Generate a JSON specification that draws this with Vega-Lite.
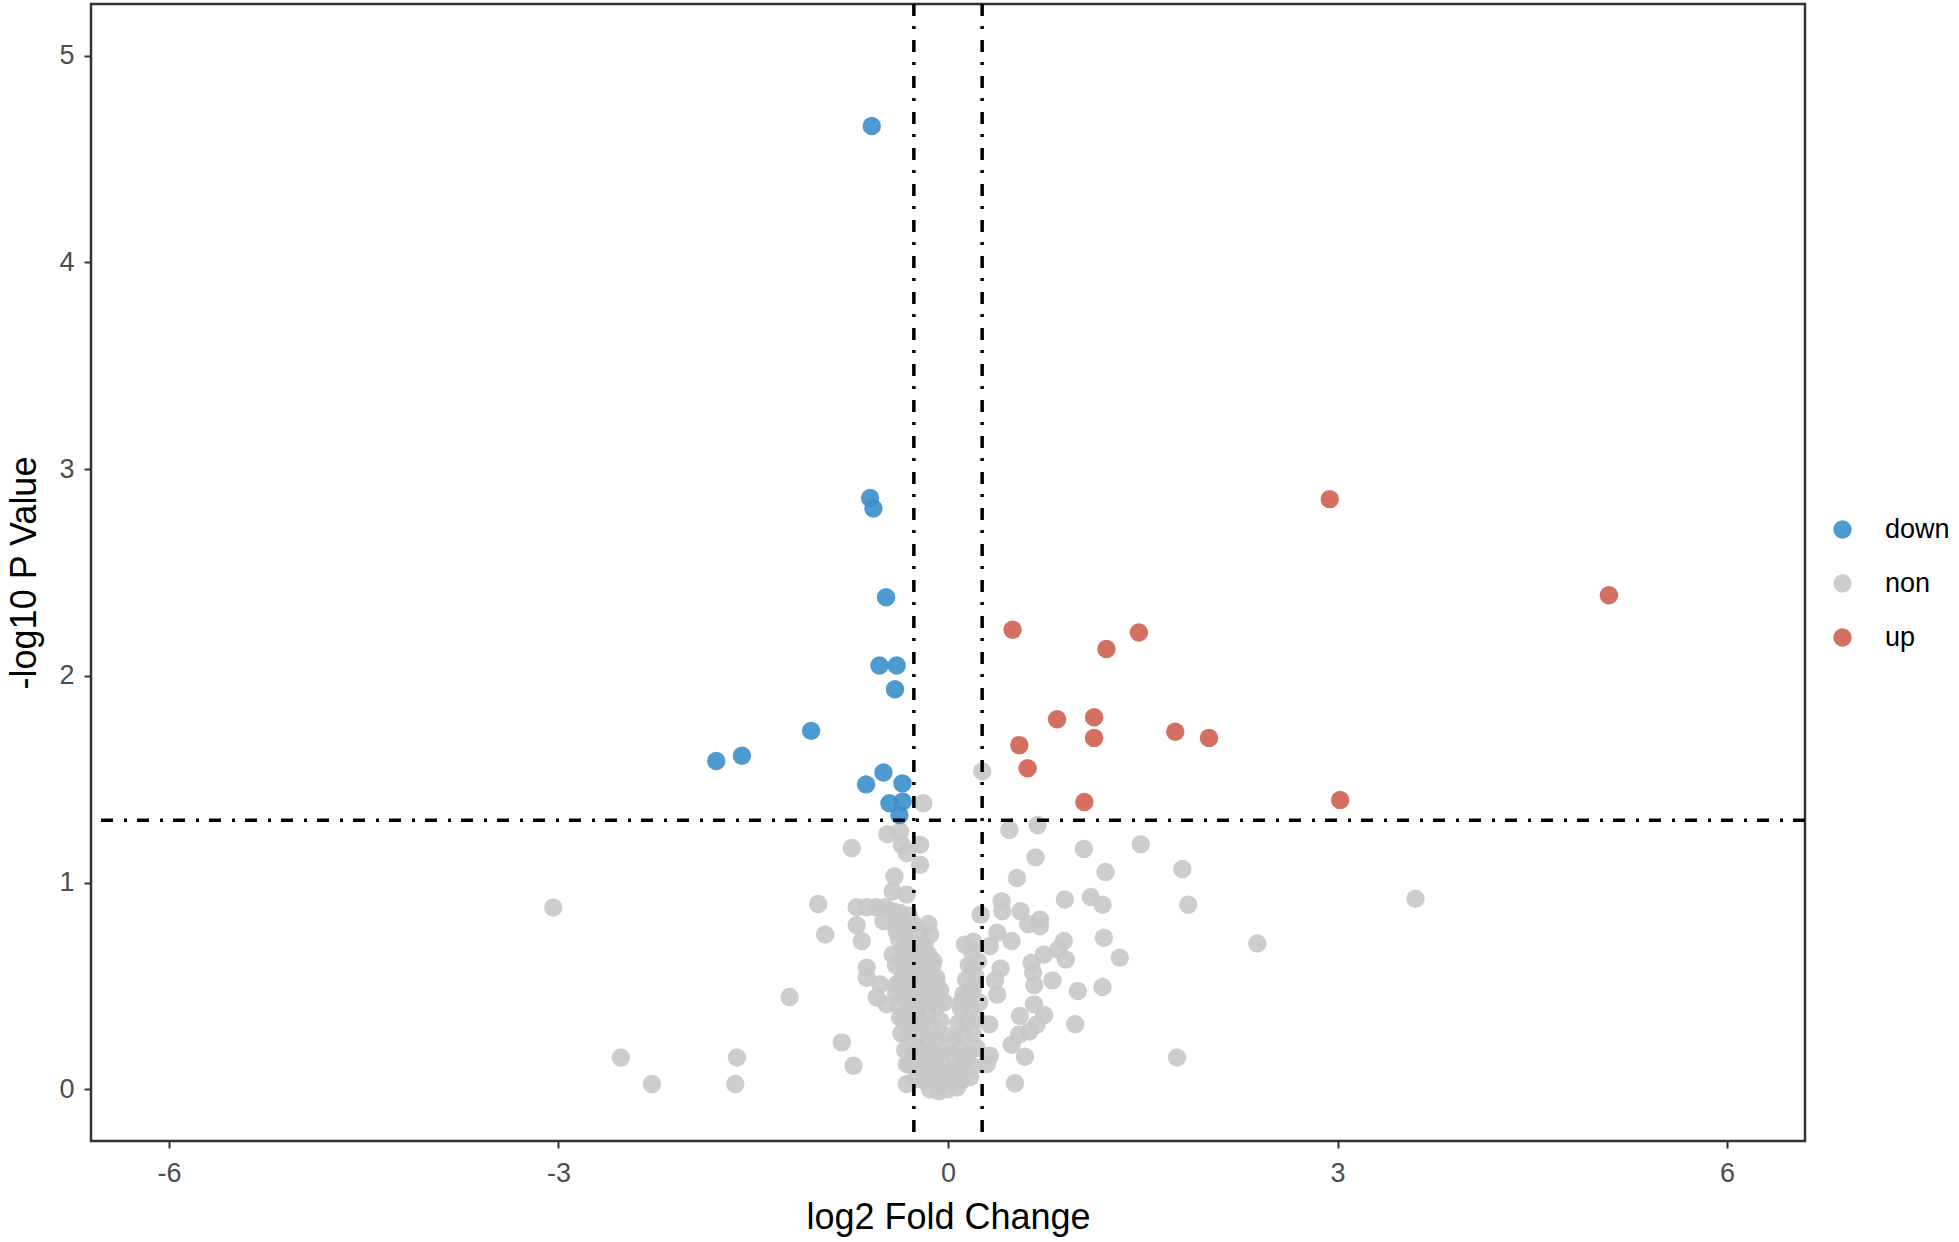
{
  "$schema": "https://vega.github.io/schema/vega-lite/v6.json",
  "width": 1714,
  "height": 1137,
  "autosize": {"type": "none"},
  "padding": {"left": 91, "top": 4, "right": 154, "bottom": 101},
  "background": "white",
  "config": {
    "view": {"stroke": "#333333", "strokeWidth": 2.5},
    "font": "Liberation Sans",
    "axis": {
      "domain": false,
      "grid": false,
      "tickColor": "#333333",
      "tickWidth": 2,
      "tickSize": 7,
      "labelColor": "#4D4D4D",
      "labelFont": "Liberation Sans",
      "labelFontSize": 27,
      "titleFont": "Liberation Sans",
      "titleFontSize": 36,
      "titleFontWeight": "normal",
      "titleColor": "#000000"
    }
  },
  "datasets": {
    "pts": [
      {"log2FC": -3.04, "nlogP": 0.88, "group": "non"},
      {"log2FC": -2.52, "nlogP": 0.154, "group": "non"},
      {"log2FC": -2.28, "nlogP": 0.026, "group": "non"},
      {"log2FC": -1.625, "nlogP": 0.154, "group": "non"},
      {"log2FC": -1.638, "nlogP": 0.026, "group": "non"},
      {"log2FC": -1.22, "nlogP": 0.447, "group": "non"},
      {"log2FC": -1.0, "nlogP": 0.897, "group": "non"},
      {"log2FC": -0.946, "nlogP": 0.749, "group": "non"},
      {"log2FC": -0.818, "nlogP": 0.227, "group": "non"},
      {"log2FC": -0.728, "nlogP": 0.114, "group": "non"},
      {"log2FC": -0.741, "nlogP": 1.167, "group": "non"},
      {"log2FC": -0.703, "nlogP": 0.881, "group": "non"},
      {"log2FC": -0.626, "nlogP": 0.881, "group": "non"},
      {"log2FC": -0.554, "nlogP": 0.881, "group": "non"},
      {"log2FC": -0.485, "nlogP": 0.881, "group": "non"},
      {"log2FC": -0.703, "nlogP": 0.794, "group": "non"},
      {"log2FC": -0.664, "nlogP": 0.717, "group": "non"},
      {"log2FC": -0.497, "nlogP": 0.813, "group": "non"},
      {"log2FC": -0.395, "nlogP": 0.765, "group": "non"},
      {"log2FC": -0.426, "nlogP": 0.652, "group": "non"},
      {"log2FC": -0.626, "nlogP": 0.588, "group": "non"},
      {"log2FC": -0.626, "nlogP": 0.54, "group": "non"},
      {"log2FC": -0.523, "nlogP": 0.508, "group": "non"},
      {"log2FC": -0.549, "nlogP": 0.444, "group": "non"},
      {"log2FC": -0.472, "nlogP": 0.411, "group": "non"},
      {"log2FC": -0.369, "nlogP": 0.62, "group": "non"},
      {"log2FC": -0.318, "nlogP": 0.7, "group": "non"},
      {"log2FC": -0.318, "nlogP": 0.572, "group": "non"},
      {"log2FC": -0.395, "nlogP": 0.508, "group": "non"},
      {"log2FC": -0.344, "nlogP": 0.444, "group": "non"},
      {"log2FC": -0.369, "nlogP": 0.347, "group": "non"},
      {"log2FC": -0.292, "nlogP": 0.283, "group": "non"},
      {"log2FC": -0.318, "nlogP": 0.122, "group": "non"},
      {"log2FC": -0.318, "nlogP": 0.026, "group": "non"},
      {"log2FC": -0.138, "nlogP": 0.0, "group": "non"},
      {"log2FC": -0.369, "nlogP": 0.853, "group": "non"},
      {"log2FC": -0.151, "nlogP": 0.8, "group": "non"},
      {"log2FC": -0.138, "nlogP": 0.749, "group": "non"},
      {"log2FC": -0.113, "nlogP": 0.62, "group": "non"},
      {"log2FC": -0.087, "nlogP": 0.516, "group": "non"},
      {"log2FC": -0.467, "nlogP": 1.234, "group": "non"},
      {"log2FC": -0.369, "nlogP": 1.247, "group": "non"},
      {"log2FC": -0.19, "nlogP": 1.384, "group": "non"},
      {"log2FC": -0.356, "nlogP": 1.183, "group": "non"},
      {"log2FC": -0.215, "nlogP": 1.183, "group": "non"},
      {"log2FC": -0.318, "nlogP": 1.143, "group": "non"},
      {"log2FC": -0.215, "nlogP": 1.086, "group": "non"},
      {"log2FC": -0.413, "nlogP": 1.03, "group": "non"},
      {"log2FC": -0.426, "nlogP": 0.958, "group": "non"},
      {"log2FC": -0.318, "nlogP": 0.942, "group": "non"},
      {"log2FC": 0.264, "nlogP": 1.537, "group": "non"},
      {"log2FC": 0.472, "nlogP": 1.255, "group": "non"},
      {"log2FC": 0.69, "nlogP": 1.279, "group": "non"},
      {"log2FC": 1.046, "nlogP": 1.163, "group": "non"},
      {"log2FC": 1.485, "nlogP": 1.186, "group": "non"},
      {"log2FC": 0.674, "nlogP": 1.122, "group": "non"},
      {"log2FC": 1.213, "nlogP": 1.051, "group": "non"},
      {"log2FC": 1.805, "nlogP": 1.066, "group": "non"},
      {"log2FC": 0.531, "nlogP": 1.022, "group": "non"},
      {"log2FC": 0.9, "nlogP": 0.918, "group": "non"},
      {"log2FC": 1.1, "nlogP": 0.93, "group": "non"},
      {"log2FC": 1.19, "nlogP": 0.893, "group": "non"},
      {"log2FC": 1.85, "nlogP": 0.893, "group": "non"},
      {"log2FC": 0.413, "nlogP": 0.91, "group": "non"},
      {"log2FC": 0.418, "nlogP": 0.862, "group": "non"},
      {"log2FC": 0.251, "nlogP": 0.845, "group": "non"},
      {"log2FC": 0.559, "nlogP": 0.862, "group": "non"},
      {"log2FC": 0.618, "nlogP": 0.8, "group": "non"},
      {"log2FC": 0.708, "nlogP": 0.821, "group": "non"},
      {"log2FC": 0.708, "nlogP": 0.789, "group": "non"},
      {"log2FC": 0.379, "nlogP": 0.757, "group": "non"},
      {"log2FC": 0.49, "nlogP": 0.717, "group": "non"},
      {"log2FC": 0.323, "nlogP": 0.693, "group": "non"},
      {"log2FC": 0.195, "nlogP": 0.714, "group": "non"},
      {"log2FC": 0.892, "nlogP": 0.717, "group": "non"},
      {"log2FC": 1.2, "nlogP": 0.733, "group": "non"},
      {"log2FC": 2.382, "nlogP": 0.705, "group": "non"},
      {"log2FC": 3.6, "nlogP": 0.922, "group": "non"},
      {"log2FC": 0.738, "nlogP": 0.652, "group": "non"},
      {"log2FC": 0.849, "nlogP": 0.676, "group": "non"},
      {"log2FC": 0.908, "nlogP": 0.628, "group": "non"},
      {"log2FC": 1.323, "nlogP": 0.636, "group": "non"},
      {"log2FC": 0.644, "nlogP": 0.612, "group": "non"},
      {"log2FC": 0.195, "nlogP": 0.596, "group": "non"},
      {"log2FC": 0.405, "nlogP": 0.585, "group": "non"},
      {"log2FC": 0.656, "nlogP": 0.564, "group": "non"},
      {"log2FC": 0.805, "nlogP": 0.527, "group": "non"},
      {"log2FC": 0.362, "nlogP": 0.527, "group": "non"},
      {"log2FC": 0.664, "nlogP": 0.505, "group": "non"},
      {"log2FC": 1.0, "nlogP": 0.476, "group": "non"},
      {"log2FC": 1.19, "nlogP": 0.495, "group": "non"},
      {"log2FC": 0.379, "nlogP": 0.457, "group": "non"},
      {"log2FC": 0.169, "nlogP": 0.488, "group": "non"},
      {"log2FC": 0.105, "nlogP": 0.424, "group": "non"},
      {"log2FC": 0.662, "nlogP": 0.411, "group": "non"},
      {"log2FC": 0.554, "nlogP": 0.355, "group": "non"},
      {"log2FC": 0.741, "nlogP": 0.36, "group": "non"},
      {"log2FC": 0.682, "nlogP": 0.312, "group": "non"},
      {"log2FC": 0.318, "nlogP": 0.315, "group": "non"},
      {"log2FC": 0.98, "nlogP": 0.315, "group": "non"},
      {"log2FC": 0.546, "nlogP": 0.264, "group": "non"},
      {"log2FC": 0.626, "nlogP": 0.28, "group": "non"},
      {"log2FC": 0.49, "nlogP": 0.216, "group": "non"},
      {"log2FC": 0.323, "nlogP": 0.162, "group": "non"},
      {"log2FC": 0.592, "nlogP": 0.158, "group": "non"},
      {"log2FC": 0.515, "nlogP": 0.029, "group": "non"},
      {"log2FC": 0.298, "nlogP": 0.122, "group": "non"},
      {"log2FC": 1.764, "nlogP": 0.154, "group": "non"},
      {"log2FC": -0.42, "nlogP": 0.86, "group": "non"},
      {"log2FC": -0.3, "nlogP": 0.84, "group": "non"},
      {"log2FC": -0.4, "nlogP": 0.8, "group": "non"},
      {"log2FC": -0.33, "nlogP": 0.78, "group": "non"},
      {"log2FC": -0.27, "nlogP": 0.8, "group": "non"},
      {"log2FC": -0.22, "nlogP": 0.76, "group": "non"},
      {"log2FC": -0.38, "nlogP": 0.73, "group": "non"},
      {"log2FC": -0.3, "nlogP": 0.71, "group": "non"},
      {"log2FC": -0.24, "nlogP": 0.69, "group": "non"},
      {"log2FC": -0.18, "nlogP": 0.7, "group": "non"},
      {"log2FC": -0.35, "nlogP": 0.66, "group": "non"},
      {"log2FC": -0.28, "nlogP": 0.64, "group": "non"},
      {"log2FC": -0.21, "nlogP": 0.63, "group": "non"},
      {"log2FC": -0.15, "nlogP": 0.65, "group": "non"},
      {"log2FC": -0.4, "nlogP": 0.6, "group": "non"},
      {"log2FC": -0.32, "nlogP": 0.59, "group": "non"},
      {"log2FC": -0.25, "nlogP": 0.57, "group": "non"},
      {"log2FC": -0.18, "nlogP": 0.58, "group": "non"},
      {"log2FC": -0.12, "nlogP": 0.6, "group": "non"},
      {"log2FC": -0.36, "nlogP": 0.53, "group": "non"},
      {"log2FC": -0.29, "nlogP": 0.52, "group": "non"},
      {"log2FC": -0.22, "nlogP": 0.51, "group": "non"},
      {"log2FC": -0.15, "nlogP": 0.52, "group": "non"},
      {"log2FC": -0.09, "nlogP": 0.54, "group": "non"},
      {"log2FC": -0.4, "nlogP": 0.47, "group": "non"},
      {"log2FC": -0.33, "nlogP": 0.46, "group": "non"},
      {"log2FC": -0.26, "nlogP": 0.45, "group": "non"},
      {"log2FC": -0.19, "nlogP": 0.45, "group": "non"},
      {"log2FC": -0.12, "nlogP": 0.46, "group": "non"},
      {"log2FC": -0.06, "nlogP": 0.48, "group": "non"},
      {"log2FC": -0.37, "nlogP": 0.4, "group": "non"},
      {"log2FC": -0.3, "nlogP": 0.39, "group": "non"},
      {"log2FC": -0.23, "nlogP": 0.39, "group": "non"},
      {"log2FC": -0.16, "nlogP": 0.38, "group": "non"},
      {"log2FC": -0.09, "nlogP": 0.4, "group": "non"},
      {"log2FC": -0.03, "nlogP": 0.42, "group": "non"},
      {"log2FC": -0.34, "nlogP": 0.33, "group": "non"},
      {"log2FC": -0.27, "nlogP": 0.32, "group": "non"},
      {"log2FC": -0.2, "nlogP": 0.32, "group": "non"},
      {"log2FC": -0.13, "nlogP": 0.31, "group": "non"},
      {"log2FC": -0.06, "nlogP": 0.33, "group": "non"},
      {"log2FC": -0.36, "nlogP": 0.27, "group": "non"},
      {"log2FC": -0.3, "nlogP": 0.25, "group": "non"},
      {"log2FC": -0.23, "nlogP": 0.26, "group": "non"},
      {"log2FC": -0.16, "nlogP": 0.24, "group": "non"},
      {"log2FC": -0.09, "nlogP": 0.25, "group": "non"},
      {"log2FC": -0.02, "nlogP": 0.26, "group": "non"},
      {"log2FC": 0.05, "nlogP": 0.24, "group": "non"},
      {"log2FC": 0.12, "nlogP": 0.26, "group": "non"},
      {"log2FC": 0.19, "nlogP": 0.27, "group": "non"},
      {"log2FC": -0.33, "nlogP": 0.19, "group": "non"},
      {"log2FC": -0.26, "nlogP": 0.18, "group": "non"},
      {"log2FC": -0.19, "nlogP": 0.18, "group": "non"},
      {"log2FC": -0.12, "nlogP": 0.17, "group": "non"},
      {"log2FC": -0.05, "nlogP": 0.18, "group": "non"},
      {"log2FC": 0.02, "nlogP": 0.17, "group": "non"},
      {"log2FC": 0.09, "nlogP": 0.19, "group": "non"},
      {"log2FC": 0.16, "nlogP": 0.18, "group": "non"},
      {"log2FC": 0.22, "nlogP": 0.2, "group": "non"},
      {"log2FC": -0.3, "nlogP": 0.12, "group": "non"},
      {"log2FC": -0.23, "nlogP": 0.11, "group": "non"},
      {"log2FC": -0.16, "nlogP": 0.11, "group": "non"},
      {"log2FC": -0.09, "nlogP": 0.1, "group": "non"},
      {"log2FC": -0.02, "nlogP": 0.11, "group": "non"},
      {"log2FC": 0.05, "nlogP": 0.1, "group": "non"},
      {"log2FC": 0.12, "nlogP": 0.12, "group": "non"},
      {"log2FC": 0.19, "nlogP": 0.11, "group": "non"},
      {"log2FC": -0.25, "nlogP": 0.05, "group": "non"},
      {"log2FC": -0.18, "nlogP": 0.04, "group": "non"},
      {"log2FC": -0.11, "nlogP": 0.05, "group": "non"},
      {"log2FC": -0.04, "nlogP": 0.04, "group": "non"},
      {"log2FC": 0.03, "nlogP": 0.05, "group": "non"},
      {"log2FC": 0.1, "nlogP": 0.04, "group": "non"},
      {"log2FC": 0.17, "nlogP": 0.06, "group": "non"},
      {"log2FC": -0.07, "nlogP": -0.01, "group": "non"},
      {"log2FC": 0.0, "nlogP": 0.0, "group": "non"},
      {"log2FC": 0.07, "nlogP": 0.01, "group": "non"},
      {"log2FC": -0.2, "nlogP": 0.15, "group": "non"},
      {"log2FC": 0.14, "nlogP": 0.15, "group": "non"},
      {"log2FC": 0.08, "nlogP": 0.32, "group": "non"},
      {"log2FC": 0.15, "nlogP": 0.33, "group": "non"},
      {"log2FC": 0.22, "nlogP": 0.34, "group": "non"},
      {"log2FC": 0.1, "nlogP": 0.39, "group": "non"},
      {"log2FC": 0.17, "nlogP": 0.4, "group": "non"},
      {"log2FC": 0.24, "nlogP": 0.42, "group": "non"},
      {"log2FC": 0.12, "nlogP": 0.46, "group": "non"},
      {"log2FC": 0.19, "nlogP": 0.48, "group": "non"},
      {"log2FC": 0.14, "nlogP": 0.53, "group": "non"},
      {"log2FC": 0.21, "nlogP": 0.55, "group": "non"},
      {"log2FC": 0.16, "nlogP": 0.6, "group": "non"},
      {"log2FC": 0.23, "nlogP": 0.62, "group": "non"},
      {"log2FC": 0.18, "nlogP": 0.67, "group": "non"},
      {"log2FC": 0.13, "nlogP": 0.7, "group": "non"},
      {"log2FC": -0.587, "nlogP": 4.66, "group": "down"},
      {"log2FC": -0.6, "nlogP": 2.86, "group": "down"},
      {"log2FC": -0.574, "nlogP": 2.81, "group": "down"},
      {"log2FC": -0.477, "nlogP": 2.38, "group": "down"},
      {"log2FC": -0.528, "nlogP": 2.05, "group": "down"},
      {"log2FC": -0.395, "nlogP": 2.05, "group": "down"},
      {"log2FC": -0.408, "nlogP": 1.935, "group": "down"},
      {"log2FC": -1.054, "nlogP": 1.734, "group": "down"},
      {"log2FC": -1.587, "nlogP": 1.614, "group": "down"},
      {"log2FC": -1.785, "nlogP": 1.588, "group": "down"},
      {"log2FC": -0.497, "nlogP": 1.533, "group": "down"},
      {"log2FC": -0.631, "nlogP": 1.475, "group": "down"},
      {"log2FC": -0.351, "nlogP": 1.48, "group": "down"},
      {"log2FC": -0.451, "nlogP": 1.384, "group": "down"},
      {"log2FC": -0.349, "nlogP": 1.392, "group": "down"},
      {"log2FC": -0.374, "nlogP": 1.327, "group": "down"},
      {"log2FC": 2.94, "nlogP": 2.855, "group": "up"},
      {"log2FC": 5.09, "nlogP": 2.39, "group": "up"},
      {"log2FC": 1.47, "nlogP": 2.21, "group": "up"},
      {"log2FC": 1.22, "nlogP": 2.13, "group": "up"},
      {"log2FC": 0.497, "nlogP": 2.223, "group": "up"},
      {"log2FC": 0.84, "nlogP": 1.79, "group": "up"},
      {"log2FC": 1.125, "nlogP": 1.8, "group": "up"},
      {"log2FC": 1.125, "nlogP": 1.7, "group": "up"},
      {"log2FC": 1.75, "nlogP": 1.73, "group": "up"},
      {"log2FC": 2.01, "nlogP": 1.70, "group": "up"},
      {"log2FC": 0.549, "nlogP": 1.665, "group": "up"},
      {"log2FC": 0.613, "nlogP": 1.553, "group": "up"},
      {"log2FC": 1.05, "nlogP": 1.39, "group": "up"},
      {"log2FC": 3.02, "nlogP": 1.40, "group": "up"}
    ],
    "vlines": [{"x": -0.263}, {"x": 0.263}],
    "hlines": [{"y": 1.301}]
  },
  "layer": [
    {
      "data": {"name": "pts"},
      "mark": {"type": "circle", "size": 340, "opacity": 0.9, "strokeWidth": 0},
      "encoding": {
        "x": {
          "field": "log2FC", "type": "quantitative",
          "scale": {"domain": [-6.6, 6.6], "nice": false, "zero": false},
          "axis": {"values": [-6, -3, 0, 3, 6], "labelExpr": "'' + datum.value", "title": "log2 Fold Change", "labelPadding": 12, "titlePadding": 14}
        },
        "y": {
          "field": "nlogP", "type": "quantitative",
          "scale": {"domain": [-0.25, 5.25], "nice": false, "zero": false},
          "axis": {"values": [0, 1, 2, 3, 4, 5], "labelExpr": "'' + datum.value", "title": "-log10 P Value", "labelPadding": 10, "titlePadding": 15}
        },
        "color": {
          "field": "group", "type": "nominal",
          "scale": {"domain": ["down", "non", "up"], "range": ["#3A8FCB", "#C8C8C8", "#CF6150"]},
          "legend": {
            "title": null,
            "orient": "none",
            "legendX": 1738,
            "legendY": 512,
            "padding": 0,
            "symbolSize": 340,
            "symbolType": "circle",
            "symbolOpacity": 0.9,
            "symbolStrokeWidth": 0,
            "labelFontSize": 27,
            "labelFont": "Liberation Sans",
            "labelColor": "#000000",
            "labelOffset": 29,
            "rowPadding": 26
          }
        }
      }
    },
    {
      "data": {"name": "vlines"},
      "mark": {"type": "rule", "color": "black", "strokeWidth": 3.5, "strokeDash": [12, 10, 3, 11]},
      "encoding": {"x": {"field": "x", "type": "quantitative"}}
    },
    {
      "data": {"name": "hlines"},
      "mark": {"type": "rule", "color": "black", "strokeWidth": 3.5, "strokeDash": [12, 10, 3, 11]},
      "encoding": {"y": {"field": "y", "type": "quantitative"}}
    }
  ]
}
